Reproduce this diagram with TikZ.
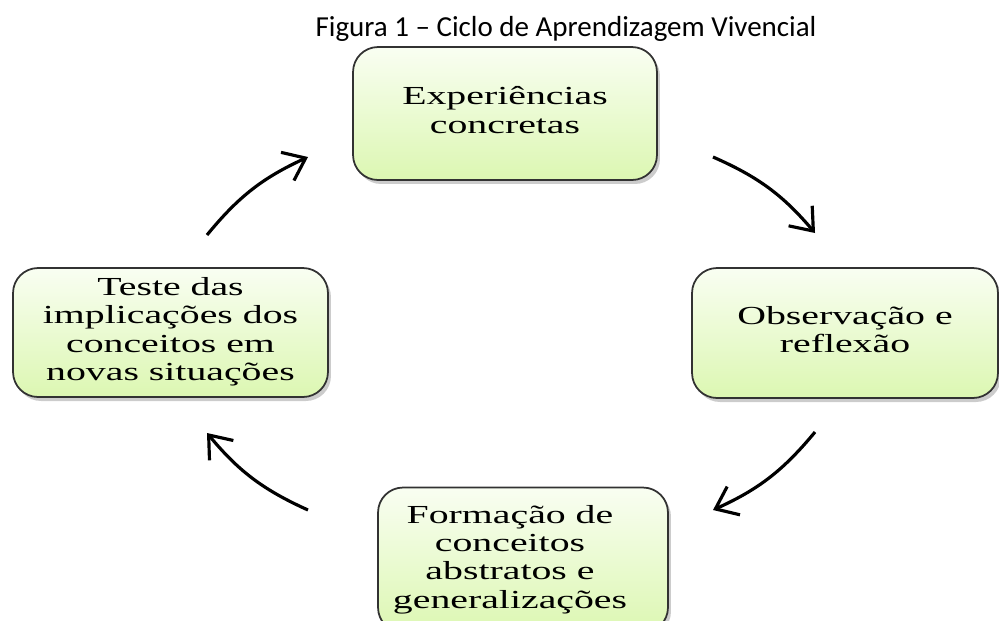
\documentclass[tikz,border=0pt]{standalone}
\usepackage{fontspec}
\setmainfont{Liberation Serif}
\newfontfamily\titlefont{Carlito}
\usepackage{graphicx}
\usetikzlibrary{arrows.meta,shadows}
\definecolor{boxtop}{RGB}{249,254,242}
\definecolor{boxbot}{RGB}{220,247,178}
\definecolor{boxline}{RGB}{50,50,50}
\tikzstyle{stage}=[draw=boxline, line width=1pt, rounded corners=0.5cm,
    top color=boxtop, bottom color=boxbot, minimum width=6.1cm, minimum height=2.6cm,
    drop shadow={shadow xshift=0.06cm, shadow yshift=-0.08cm, opacity=0.4, fill=gray}]
\tikzstyle{cycle}=[line width=1.8pt, -{Straight Barb[length=0.4cm, width=0.62cm, line width=1.8pt]}, bend left=13]
\newcommand{\stagetext}[1]{\fontsize{14.8}{16.2}\selectfont\scalebox{1.53}[1]{\begin{tabular}{@{}c@{}}#1\end{tabular}}}

\begin{document}
\begin{tikzpicture}[x=0.02cm, y=-0.02cm]
\useasboundingbox (0,0) rectangle (999,620);
\clip (0,0) rectangle (999,620);
% Title
    \node[anchor=base] (title) at (566,36) {\titlefont\fontsize{16.5}{19}\selectfont Figura 1 – Ciclo de Aprendizagem Vivencial};
% Stages
    \node[stage, minimum width=6.08cm, minimum height=2.66cm] (exp) at (505,113.5) {\stagetext{Experiências\\concretas}};
    \node[stage, minimum width=6.12cm] (obs) at (845,333) {\stagetext{Observação e\\reflexão}};
    \node[stage, minimum width=5.8cm, minimum height=2.9cm] (form) at (523,560) {};
    \node (formtext) at (510,560) {\stagetext{Formação de\\conceitos\\abstratos e\\generalizações}};
    \node[stage, minimum width=6.3cm, minimum height=2.58cm] (test) at (170.5,332.5) {\stagetext{Teste das\\implicações dos\\conceitos em\\novas situações}};
% Arrow ends
    \coordinate (a1) at (713,157);
    \coordinate (b1) at (815,233);
    \coordinate (a2) at (815,432);
    \coordinate (b2) at (713,510);
    \coordinate (a3) at (308,510);
    \coordinate (b3) at (207,433);
    \coordinate (a4) at (207,235);
    \coordinate (b4) at (308,157);
% Cycle
    \draw[cycle] (a1) to (b1);
    \draw[cycle] (a2) to (b2);
    \draw[cycle] (a3) to (b3);
    \draw[cycle] (a4) to (b4);
\end{tikzpicture}
\end{document}
